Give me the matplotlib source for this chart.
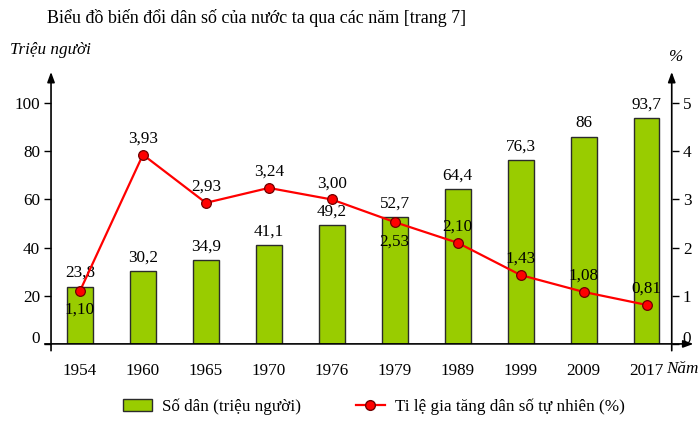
import matplotlib
matplotlib.use('Agg')
import matplotlib.pyplot as plt
import matplotlib.transforms as mtransforms
import numpy as np
from matplotlib.patches import Patch
from matplotlib.lines import Line2D

years = ['1954', '1960', '1965', '1970', '1976', '1979', '1989', '1999', '2009', '2017']
population = [23.8, 30.2, 34.9, 41.1, 49.2, 52.7, 64.4, 76.3, 86, 93.7]
growth_rate = [1.10, 3.93, 2.93, 3.24, 3.00, 2.53, 2.10, 1.43, 1.08, 0.81]
pop_labels = ['23,8', '30,2', '34,9', '41,1', '49,2', '52,7', '64,4', '76,3', '86', '93,7']
rate_labels = ['1,10', '3,93', '2,93', '3,24', '3,00', '2,53', '2,10', '1,43', '1,08', '0,81']
rate_below = [True, False, False, False, False, True, False, False, False, False]

plt.rcParams['font.family'] = ['Liberation Serif', 'DejaVu Serif']
FS = 12.3

fig = plt.figure(figsize=(6.99, 4.23), dpi=100)
ax = fig.add_axes([0.073, 0.187, 0.888, 0.643])
ax2 = ax.twinx()

x = np.arange(len(years))
ax.bar(x, population, width=0.41, color='#99cc00', edgecolor='#2b2b2b', linewidth=1.0, zorder=2)
ax.set_xlim(-0.46, 9.40)
ax.set_ylim(0, 113)
ax2.set_ylim(0, 113 / 20)

for xi, v, lab in zip(x, population, pop_labels):
    ax.annotate(lab, (xi, v), xytext=(0, 4), textcoords='offset points',
                ha='center', va='bottom', fontsize=FS, zorder=5)

ax2.plot(x, growth_rate, color='#ff0000', linewidth=1.6, marker='o', markersize=7,
         markerfacecolor='#ff0000', markeredgecolor='#700000', markeredgewidth=0.9, zorder=4)
for xi, v, lab, below in zip(x, growth_rate, rate_labels, rate_below):
    off = -8 if below else 6
    ax2.annotate(lab, (xi, v), xytext=(0, off), textcoords='offset points',
                 ha='center', va='top' if below else 'bottom', fontsize=FS, zorder=5)

for a in (ax, ax2):
    for s in a.spines.values():
        s.set_visible(False)

ax.set_yticks(range(0, 101, 20))
ax2.set_yticks(range(0, 6))
ax.set_xticks(x)
ax.set_xticklabels(years)
ax.tick_params(axis='x', length=0, pad=14, labelsize=FS)
ax.tick_params(axis='y', direction='out', length=5, width=1, pad=3, labelsize=FS)
ax2.tick_params(axis='y', direction='out', length=5, width=1, pad=3, labelsize=FS)

# the zero labels sit a little above the x axis line
lift = mtransforms.ScaledTranslation(0, 5 / 72, fig.dpi_scale_trans)
for a in (ax, ax2):
    lab0 = a.get_yticklabels()[0]
    lab0.set_transform(lab0.get_transform() + lift)

arrow = dict(arrowstyle='-|>,head_length=0.6,head_width=0.22', color='black', lw=1.2,
             shrinkA=0, shrinkB=0)
ax.annotate('', xy=(0, 1.0), xytext=(0, -0.025), xycoords='axes fraction', arrowprops=arrow)
ax.annotate('', xy=(1, 1.0), xytext=(1, -0.025), xycoords='axes fraction', arrowprops=arrow)
ax.annotate('', xy=(1.035, 0), xytext=(-0.01, 0), xycoords='axes fraction', arrowprops=arrow)

fig.text(0.367, 0.957, 'Biểu đồ biến đổi dân số của nước ta qua các năm [trang 7]',
         ha='center', va='center', fontsize=13)
fig.text(0.014, 0.882, 'Triệu người', ha='left', va='center', fontsize=FS, style='italic')
fig.text(0.955, 0.866, '%', ha='left', va='center', fontsize=FS, style='italic')
fig.text(0.953, 0.128, 'Năm', ha='left', va='center', fontsize=FS, style='italic')

handles = [Patch(facecolor='#99cc00', edgecolor='#2b2b2b', linewidth=1.0),
           Line2D([0], [0], color='#ff0000', linewidth=1.6, marker='o', markersize=7,
                  markerfacecolor='#ff0000', markeredgecolor='#700000')]
fig.legend(handles, ['Số dân (triệu người)', 'Ti lệ gia tăng dân số tự nhiên (%)'],
           loc='center', bbox_to_anchor=(0.535, 0.038), ncol=2, frameon=False,
           fontsize=FS, handlelength=1.7, columnspacing=3.2, handletextpad=0.6)

fig.savefig('out.png', dpi=100)
